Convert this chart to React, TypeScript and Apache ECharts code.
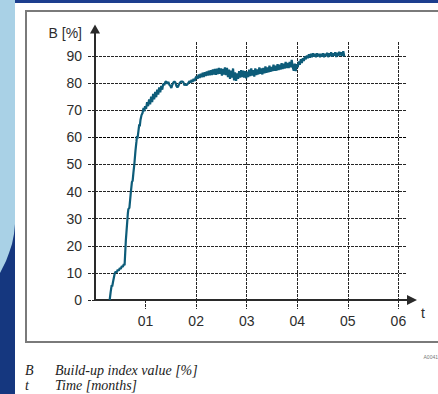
import React, { useEffect, useRef } from "react";
import * as echarts from "echarts";

// Time in months
const timeMonths: number[] = [
  0.29, 0.31, 0.33, 0.34, 0.36, 0.39, 0.41, 0.43, 0.45, 0.47, 0.49, 0.51, 0.53, 0.55, 0.57, 0.585,
  0.61, 0.65, 0.66, 0.68, 0.71, 0.73, 0.745, 0.76, 0.78, 0.8, 0.82, 0.83, 0.84, 0.86, 0.875, 0.885,
  0.9, 0.92, 0.94, 0.96, 0.975, 0.99, 1.01, 1.03, 1.05, 1.07, 1.09, 1.11, 1.13, 1.15, 1.17, 1.19,
  1.21, 1.23, 1.25, 1.27, 1.29, 1.31, 1.33, 1.35, 1.37, 1.39, 1.41, 1.43, 1.45, 1.47, 1.49, 1.51,
  1.53, 1.55, 1.57, 1.59, 1.61, 1.63, 1.65, 1.67, 1.69, 1.71, 1.73, 1.75, 1.77, 1.79, 1.81, 1.83,
  1.85, 1.87, 1.89, 1.91, 1.93, 1.95, 1.97, 1.99, 2.01, 2.03, 2.05, 2.07, 2.09, 2.11, 2.13, 2.15,
  2.17, 2.19, 2.21, 2.23, 2.25, 2.27, 2.29, 2.31, 2.33, 2.35, 2.37, 2.39, 2.41, 2.43, 2.45, 2.47,
  2.49, 2.51, 2.53, 2.55, 2.57, 2.59, 2.61, 2.63, 2.65, 2.67, 2.69, 2.71, 2.73, 2.75, 2.77, 2.79,
  2.81, 2.83, 2.85, 2.87, 2.89, 2.91, 2.93, 2.95, 2.97, 2.99, 3.01, 3.03, 3.05, 3.07, 3.09, 3.11,
  3.13, 3.15, 3.17, 3.19, 3.21, 3.23, 3.25, 3.27, 3.29, 3.31, 3.33, 3.35, 3.37, 3.39, 3.41, 3.43,
  3.45, 3.47, 3.49, 3.51, 3.53, 3.55, 3.57, 3.59, 3.61, 3.63, 3.65, 3.67, 3.69, 3.71, 3.73, 3.75,
  3.77, 3.79, 3.81, 3.83, 3.85, 3.87, 3.89, 3.91, 3.93, 3.95, 3.97, 3.99, 4.01, 4.03, 4.05, 4.07,
  4.09, 4.11, 4.13, 4.15, 4.17, 4.19, 4.21, 4.23, 4.25, 4.27, 4.29, 4.31, 4.33, 4.35, 4.37, 4.39,
  4.41, 4.43, 4.45, 4.47, 4.49, 4.51, 4.53, 4.55, 4.57, 4.59, 4.61, 4.63, 4.65, 4.67, 4.69, 4.71,
  4.73, 4.75, 4.77, 4.79, 4.81, 4.83, 4.85, 4.87, 4.89, 4.91, 4.93,
];

// Build-up index value [%]
const buildUpIndex: number[] = [
  0, 3, 5.5, 5, 7, 9.8, 10.5, 10.2, 11.2, 10.8, 11.8, 11.5, 12.5, 12.2, 13.2, 12.8,
  22, 32, 33.5, 34, 40, 43.5, 44, 47, 50.5, 55, 58.5, 60.5, 59.5, 62.5, 64.8, 64,
  66.5, 68.2, 69, 70.8, 69.6, 71.5, 70.5, 73, 71.5, 74, 72.2, 75, 73, 76, 74, 76.8,
  74.8, 77.6, 75.8, 78.4, 76.6, 79, 77.6, 79.8, 79.2, 80.4, 80.6, 79.8, 80.5, 79.4, 79, 78.2,
  79.4, 80.2, 80.6, 80.2, 79, 78.4, 79, 79.9, 80.4, 80.6, 80.6, 80.2, 79.2, 79.6, 79.3, 79.6,
  80.2, 80.8, 80.2, 81.2, 80.4, 81.6, 80.8, 82, 82.5, 81.6, 83.2, 81.9, 83.5, 82.2, 83.8, 82.3,
  84, 82.6, 84.3, 82.8, 84.6, 82.9, 84.8, 83, 85, 83.2, 85.2, 83.1, 85.3, 83.3, 85.6, 83.4,
  85.4, 82.8, 85.2, 83.2, 85.8, 83, 85.6, 82.2, 85, 81.6, 84.6, 82, 85.4, 81, 84, 80.8,
  83.6, 81.6, 84.4, 82, 84.8, 82.2, 84.6, 82, 84.4, 81.8, 84.2, 82.2, 85, 82.6, 85.4, 82.8,
  84.8, 82.4, 85.4, 83, 85, 83.2, 85.8, 83.4, 85.4, 83.2, 85.6, 83.6, 86.2, 83.8, 85.8, 84,
  86.4, 84.2, 86, 84.4, 86.8, 84.6, 86.4, 84.6, 87, 84.8, 86.8, 85, 87.4, 85.2, 87.2, 85.4,
  87.8, 85.6, 87.4, 85.6, 87.8, 85.8, 88.6, 86, 84.6, 87.2, 84.4, 87, 85.8, 88, 86.8, 88.8,
  87.4, 89.2, 88.2, 89.8, 88.8, 90.2, 89.2, 90.6, 89.4, 90.8, 89.6, 91, 89.8, 90.8, 89.6, 91,
  89.9, 90.8, 89.6, 90.8, 89.8, 91, 89.6, 90.8, 90, 91.2, 89.6, 91, 90, 91.4, 89.8, 91,
  90.2, 91.4, 89.6, 91.2, 90, 91.6, 90.2, 91.4, 90, 91.8, 89.8,
];

const xTicks: number[] = [1, 2, 3, 4, 5, 6];
const xTickLabels: string[] = ["01", "02", "03", "04", "05", "06"];
const yTicks: number[] = [0, 10, 20, 30, 40, 50, 60, 70, 80, 90];

const yAxisTitle = "B [%]";
const xAxisTitle = "t";
const legendSymbols: string[] = ["B", "t"];
const legendTexts: string[] = ["Build-up index value [%]", "Time [months]"];
const figureCode = "A0041";

const LABEL_FONT = "'Liberation Sans', Arial, sans-serif";
const NOTE_FONT = "'Liberation Serif', 'DejaVu Serif', serif";

export default function App() {
  const ref = useRef<HTMLDivElement>(null);

  useEffect(() => {
    if (!ref.current) return;
    const chart = echarts.init(ref.current, null, { renderer: "svg" });

    const seriesData = timeMonths.map((t, i) => [t, buildUpIndex[i]]);
    const grid = "#262626";
    const gridStrong = "#000";
    const ySplitColors = ["rgba(0,0,0,0)"].concat(
      yTicks.slice(1).map((v) => (v === 60 ? gridStrong : grid)),
      ["rgba(0,0,0,0)"]
    );
    const xSplitColors = ["rgba(0,0,0,0)"].concat(xTicks.map(() => grid), ["rgba(0,0,0,0)"]);

    const option: any = {
      animation: false,
      backgroundColor: "#ffffff",
      grid: [
        { left: 95, right: 31, top: 42, bottom: 94 },
        { left: 95, right: 26, top: 29, bottom: 94 },
      ],
      xAxis: [
        {
          type: "value",
          gridIndex: 0,
          min: 0,
          max: 6.17,
          interval: 1,
          axisLine: { show: false },
          axisTick: {
            show: true,
            length: 9,
            customValues: xTicks,
            lineStyle: { color: grid, type: [3, 1], width: 1 },
          },
          axisLabel: {
            customValues: xTicks,
            formatter: (v: number) => {
              const i = xTicks.indexOf(Math.round(v * 1000) / 1000);
              return i >= 0 ? xTickLabels[i] : "";
            },
            margin: 14,
            fontSize: 14,
            color: "#2d2d2d",
            fontFamily: LABEL_FONT,
          },
          splitLine: {
            show: true,
            lineStyle: { color: xSplitColors, type: [3, 1], width: 1 },
          },
        },
        {
          type: "value",
          gridIndex: 1,
          min: 0,
          max: 1,
          axisLine: {
            show: true,
            symbol: ["none", "triangle"],
            symbolSize: [10, 10],
            lineStyle: { color: "#2a2a2a", width: 2 },
          },
          axisTick: { show: false },
          axisLabel: { show: false },
          splitLine: { show: false },
        },
      ],
      yAxis: [
        {
          type: "value",
          gridIndex: 0,
          min: 0,
          max: 95.17,
          interval: 10,
          axisLine: { show: false },
          axisTick: {
            show: true,
            length: 7,
            customValues: yTicks,
            lineStyle: { color: grid, type: [3, 1], width: 1 },
          },
          axisLabel: {
            customValues: yTicks,
            formatter: (v: number) =>
              yTicks.indexOf(Math.round(v)) >= 0 && Math.abs(v - Math.round(v)) < 1e-6 ? String(Math.round(v)) : "",
            margin: 13,
            fontSize: 14,
            color: "#2d2d2d",
            fontFamily: LABEL_FONT,
          },
          splitLine: {
            show: true,
            lineStyle: { color: ySplitColors, type: [3, 1], width: 1 },
          },
        },
        {
          type: "value",
          gridIndex: 1,
          min: 0,
          max: 1,
          axisLine: {
            show: true,
            symbol: ["none", "triangle"],
            symbolSize: [10, 9],
            lineStyle: { color: "#2a2a2a", width: 2 },
          },
          axisTick: { show: false },
          axisLabel: { show: false },
          splitLine: { show: false },
        },
      ],
      series: [
        {
          type: "line",
          xAxisIndex: 0,
          yAxisIndex: 0,
          data: seriesData,
          showSymbol: false,
          symbol: "none",
          lineStyle: { color: "#0d5c79", width: 2.2 },
          z: 5,
        },
      ],
      graphic: [
        // slide decorations
        { type: "rect", z: -10, shape: { x: 0, y: 0, width: 15, height: 394 }, style: { fill: "#a9d1e6" } },
        {
          type: "polygon",
          z: -9,
          shape: {
            points: [
              [15, 224], [14, 234], [12, 244], [9, 253], [6, 261], [3, 267], [0, 273], [0, 394], [15, 394],
            ],
          },
          style: { fill: "#15377f" },
        },
        { type: "rect", z: -10, shape: { x: 15, y: 0, width: 423, height: 3 }, style: { fill: "#1c3e8e" } },
        // frame
        {
          type: "rect",
          z: -5,
          shape: { x: 26, y: 11, width: 430, height: 331 },
          style: { fill: "none", stroke: "#7a7a7a", lineWidth: 2 },
        },
        // axis titles
        {
          type: "text",
          x: 82,
          y: 33,
          style: {
            text: yAxisTitle,
            fill: "#2d2d2d",
            font: `14px ${LABEL_FONT}`,
            textAlign: "right",
            textVerticalAlign: "middle",
          },
        },
        {
          type: "text",
          x: 421,
          y: 313,
          style: {
            text: xAxisTitle,
            fill: "#2d2d2d",
            font: `14px ${LABEL_FONT}`,
            textAlign: "left",
            textVerticalAlign: "middle",
          },
        },
        {
          type: "text",
          x: 438,
          y: 357,
          style: {
            text: figureCode,
            fill: "#777",
            font: `5px ${LABEL_FONT}`,
            textAlign: "right",
            textVerticalAlign: "middle",
          },
        },
        // legend notes
        ...legendSymbols.map((s, i) => ({
          type: "text",
          x: 25,
          y: 370 + i * 15,
          style: {
            text: s,
            fill: "#222",
            font: `italic 14px ${NOTE_FONT}`,
            textAlign: "left",
            textVerticalAlign: "middle",
          },
        })),
        ...legendTexts.map((s, i) => ({
          type: "text",
          x: 55,
          y: 370 + i * 15,
          style: {
            text: s,
            fill: "#222",
            font: `italic 14px ${NOTE_FONT}`,
            textAlign: "left",
            textVerticalAlign: "middle",
          },
        })),
      ],
    };

    chart.setOption(option);
    return () => chart.dispose();
  }, []);

  return (
    <div
      ref={ref}
      style={{ position: "absolute", left: 0, top: 0, width: 438, height: 394 }}
    />
  );
}
